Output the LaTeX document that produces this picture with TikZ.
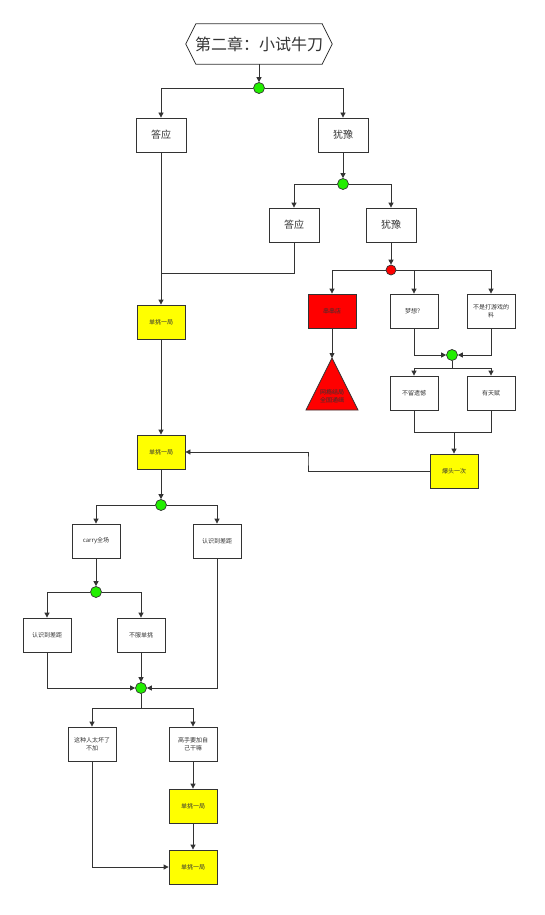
\documentclass[tikz,border=0pt]{standalone}
\usepackage{fontspec}
\newfontfamily\cjk{Noto Sans CJK SC}
\usetikzlibrary{arrows.meta}
\definecolor{ln}{HTML}{333333}
\definecolor{yel}{HTML}{FFFF00}
\definecolor{grn}{HTML}{22EE00}
\tikzset{
  box/.style={draw=ln, fill=white, line width=0.8pt, minimum width=48, minimum height=34, inner sep=1pt, align=center, text=ln, font=\cjk\fontsize{6}{7.5}\selectfont},
  bigbox/.style={box, minimum width=50, font=\cjk\fontsize{10}{12}\selectfont},
  ybox/.style={box, fill=yel},
  rbox/.style={box, fill=red},
  dot/.style={circle, draw=ln, fill=grn, minimum size=11, inner sep=0pt, line width=0.7pt},
  rdot/.style={dot, fill=red, minimum size=10},
  arr/.style={draw=ln, line width=0.8pt, -{Triangle[length=5pt,width=5pt]}},
  ln/.style={draw=ln, line width=0.8pt},
}
\begin{document}
\begin{tikzpicture}[x=1pt,y=-1pt]
\useasboundingbox (0,0) rectangle (545,915);
% title
\node[font=\cjk\fontsize{16}{19}\selectfont, text=ln, minimum width=146, minimum height=40, inner sep=0pt] (title) at (259,44) {第二章：小试牛刀};
\draw[ln] (title.west) -- ([xshift=10]title.north west) -- ([xshift=-10]title.north east) -- (title.east) -- ([xshift=-10]title.south east) -- ([xshift=10]title.south west) -- cycle;
\node[dot] (c1) at (259,88) {};
\node[bigbox] (a1) at (161,135) {答应};
\node[bigbox] (h1) at (343,135) {犹豫};
\node[dot] (c2) at (343,184) {};
\node[bigbox] (a2) at (294,225) {答应};
\node[bigbox] (h2) at (391,225) {犹豫};
\node[rdot] (c3) at (391,270) {};
\node[rbox] (rb) at (332,311) {串串店};
\node[box] (dream) at (414,311) {梦想？};
\node[box] (notgame) at (491,311) {不是打游戏的\\料};
\coordinate (apex) at (332,358);
\draw[ln, fill=red] (apex) -- (358,410) -- (306,410) -- cycle;
\node[font=\cjk\fontsize{6}{7.5}\selectfont, text=ln, align=center] (tri) at (332,396) {网瘾结局\\全国通缉};
\node[dot] (c4) at (452,355) {};
\node[box] (nol) at (414,393) {不留遗憾};
\node[box] (tal) at (491,393) {有天赋};
\node[ybox] (bt) at (454,471) {爆头一次};
\node[ybox] (y1) at (161,322) {单挑一局};
\node[ybox] (y2) at (161,452) {单挑一局};
\node[dot] (c5) at (161,505) {};
\node[box] (carry) at (96,541) {carry全场};
\node[box] (rs1) at (217,541) {认识到差距};
\node[dot] (c6) at (96,592) {};
\node[box] (rs2) at (47,635) {认识到差距};
\node[box] (bf) at (141,635) {不服单挑};
\node[dot] (c7) at (141,688) {};
\node[box] (bad) at (92,744) {这种人太坏了\\不加};
\node[box] (gs) at (193,744) {高手要加自\\己干嘛};
\node[ybox] (y3) at (193,806) {单挑一局};
\node[ybox] (y4) at (193,867) {单挑一局};
% coordinates
\coordinate (j2) at (161,273);
\coordinate (j4) at (452,368);
\coordinate (j5) at (454,432);
\coordinate (k1) at (308,460);
\coordinate (j7) at (141,708);
% connectors
\draw[arr] (title.south) -- (c1);
\draw[arr] (c1.west) -| (a1);
\draw[arr] (c1.east) -| (h1);
\draw[arr] (h1) -- (c2);
\draw[arr] (c2.west) -| (a2);
\draw[arr] (c2.east) -| (h2);
\draw[arr] (a1) -- (y1);
\draw[ln] (a2.south) |- (j2);
\draw[arr] (h2) -- (c3);
\draw[arr] (c3.west) -| (rb);
\draw[arr] (c3.east) -| (dream);
\draw[arr] (c3.east) -| (notgame);
\draw[arr] (rb.south) -- (apex);
\draw[arr] (dream.south) |- (c4.west);
\draw[arr] (notgame.south) |- (c4.east);
\draw[ln] (c4) -- (j4);
\draw[arr] (j4) -| (nol);
\draw[arr] (j4) -| (tal);
\draw[ln] (nol.south) |- (j5);
\draw[ln] (tal.south) |- (j5);
\draw[arr] (j5) -- (bt);
\draw[arr] (bt.west) -| (k1) |- (y2.east);
\draw[arr] (y1) -- (y2);
\draw[arr] (y2) -- (c5);
\draw[arr] (c5.west) -| (carry);
\draw[arr] (c5.east) -| (rs1);
\draw[arr] (carry) -- (c6);
\draw[arr] (c6.west) -| (rs2);
\draw[arr] (c6.east) -| (bf);
\draw[arr] (rs2.south) |- (c7.west);
\draw[arr] (bf) -- (c7);
\draw[arr] (rs1.south) |- (c7.east);
\draw[ln] (c7) -- (j7);
\draw[arr] (j7) -| (bad);
\draw[arr] (j7) -| (gs);
\draw[arr] (gs) -- (y3);
\draw[arr] (y3) -- (y4);
\draw[arr] (bad.south) |- (y4.west);
\end{tikzpicture}
\end{document}
